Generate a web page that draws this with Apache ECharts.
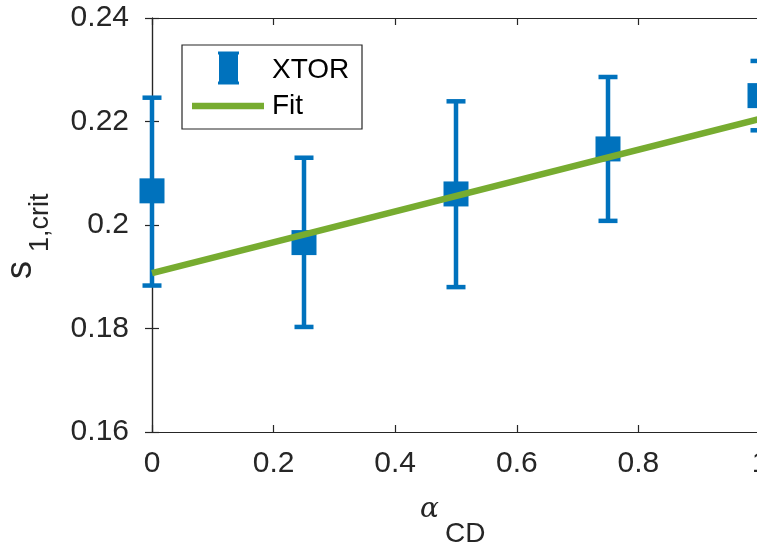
<!DOCTYPE html>
<html>
<head>
<meta charset="utf-8">
<script src="https://cdn.jsdelivr.net/npm/echarts@6/dist/echarts.min.js"></script>
<style>
html,body{margin:0;padding:0;background:#fff;}
#c{width:757px;height:543px;}
</style>
</head>
<body>
<div id="c"></div>
<script>
const alphaCD = [0, 0.25, 0.5, 0.75, 1];
const xtorMean = [0.2066, 0.1966, 0.2060, 0.2147, 0.2250];
const xtorLow = [0.1883, 0.1803, 0.1880, 0.2008, 0.2183];
const xtorHigh = [0.2246, 0.2130, 0.2239, 0.2286, 0.2317];
const fitX = [0, 1];
const fitY = [0.1907, 0.2205];
const xTickLabels = ['0', '0.2', '0.4', '0.6', '0.8', '1'];
const yTickLabels = ['0.16', '0.18', '0.2', '0.22', '0.24'];

const BLUE = '#0072BD', GREEN = '#77AC30', AX = '#262626';
const FONT = 'Liberation Sans';

const chart = echarts.init(document.getElementById('c'));
const axisCommon = {
  axisLine: {show: true, lineStyle: {color: AX, width: 1.2}},
  axisTick: {show: true, inside: true, length: 7, lineStyle: {color: AX, width: 1.2}},
  splitLine: {show: false}
};
const xMin = 0, xMax = 1, xInt = 0.2;
const yMin = 0.16, yMax = 0.24, yInt = 0.02;

chart.setOption({
  animation: false,
  backgroundColor: '#fff',
  grid: {left: 152, top: 18, width: 608, height: 414, containLabel: false, outerBoundsMode: 'none'},
  xAxis: [
    Object.assign({type: 'value', min: xMin, max: xMax, interval: xInt, position: 'bottom',
      axisLabel: {fontFamily: FONT, fontSize: 30, color: AX, margin: 17, hideOverlap: false,
        formatter: v => xTickLabels[Math.round((v - xMin) / xInt)]}}, axisCommon),
    Object.assign({type: 'value', min: xMin, max: xMax, interval: xInt, position: 'top',
      axisLabel: {show: false}}, axisCommon)
  ],
  yAxis: [
    Object.assign({type: 'value', min: yMin, max: yMax, interval: yInt, position: 'left',
      axisLabel: {fontFamily: FONT, fontSize: 30, color: AX, margin: 23,
        formatter: v => yTickLabels[Math.round((v - yMin) / yInt)]}}, axisCommon),
    Object.assign({type: 'value', min: yMin, max: yMax, interval: yInt, position: 'right',
      axisLabel: {show: false}}, axisCommon)
  ],
  series: [
    {
      type: 'custom',
      name: 'XTOR err',
      z: 2,
      clip: false,
      data: alphaCD.map((x, i) => [x, xtorLow[i], xtorHigh[i]]),
      renderItem: function (params, api) {
        const x = api.value(0);
        const pLo = api.coord([x, api.value(1)]);
        const pHi = api.coord([x, api.value(2)]);
        const hw = 9.5;
        const st = {stroke: BLUE, lineWidth: 4.5};
        return {
          type: 'group',
          children: [
            {type: 'line', shape: {x1: pLo[0], y1: pLo[1], x2: pHi[0], y2: pHi[1]}, style: st},
            {type: 'line', shape: {x1: pLo[0] - hw, y1: pLo[1], x2: pLo[0] + hw, y2: pLo[1]}, style: st},
            {type: 'line', shape: {x1: pHi[0] - hw, y1: pHi[1], x2: pHi[0] + hw, y2: pHi[1]}, style: st}
          ]
        };
      }
    },
    {
      type: 'scatter',
      name: 'XTOR',
      z: 3,
      symbol: 'rect',
      symbolSize: 25,
      itemStyle: {color: BLUE, opacity: 1},
      data: alphaCD.map((x, i) => [x, xtorMean[i]])
    },
    {
      type: 'line',
      name: 'Fit',
      z: 4,
      symbol: 'none',
      lineStyle: {color: GREEN, width: 6.5},
      data: fitX.map((x, i) => [x, fitY[i]])
    }
  ],
  graphic: [
    {type: 'rect', z: 10, shape: {x: 182, y: 45, width: 180, height: 84},
      style: {fill: '#fff', stroke: AX, lineWidth: 1.2}},
    {type: 'rect', z: 11, shape: {x: 219, y: 52, width: 19, height: 32}, style: {fill: BLUE}},
    {type: 'line', z: 11, shape: {x1: 218, y1: 53, x2: 239, y2: 53}, style: {stroke: BLUE, lineWidth: 3}},
    {type: 'line', z: 11, shape: {x1: 218, y1: 83, x2: 239, y2: 83}, style: {stroke: BLUE, lineWidth: 3}},
    {type: 'text', z: 11, x: 272, y: 70,
      style: {text: 'XTOR', font: '28px "Liberation Sans"', fill: '#000', verticalAlign: 'middle'}},
    {type: 'line', z: 11, shape: {x1: 192, y1: 106, x2: 264, y2: 106}, style: {stroke: GREEN, lineWidth: 6.5}},
    {type: 'text', z: 11, x: 272, y: 106,
      style: {text: 'Fit', font: '28px "Liberation Sans"', fill: '#000', verticalAlign: 'middle'}},
    // y-axis title s_{1,crit}
    {type: 'text', z: 11, x: 21, y: 279, rotation: Math.PI / 2,
      style: {text: 's', font: '36px "Liberation Sans"', fill: AX, verticalAlign: 'middle', align: 'left'}},
    {type: 'text', z: 11, x: 41, y: 252, rotation: Math.PI / 2,
      style: {text: '1,crit', font: '27px "Liberation Sans"', fill: AX, verticalAlign: 'middle', align: 'left'}},
    // x-axis title alpha_{CD}
    {type: 'text', z: 11, x: 420, y: 510,
      style: {text: 'α', font: 'italic 28px "DejaVu Serif"', fill: AX, verticalAlign: 'middle'}},
    {type: 'text', z: 11, x: 445, y: 534,
      style: {text: 'CD', font: '28px "Liberation Sans"', fill: AX, verticalAlign: 'middle'}}
  ]
});
</script>
</body>
</html>
